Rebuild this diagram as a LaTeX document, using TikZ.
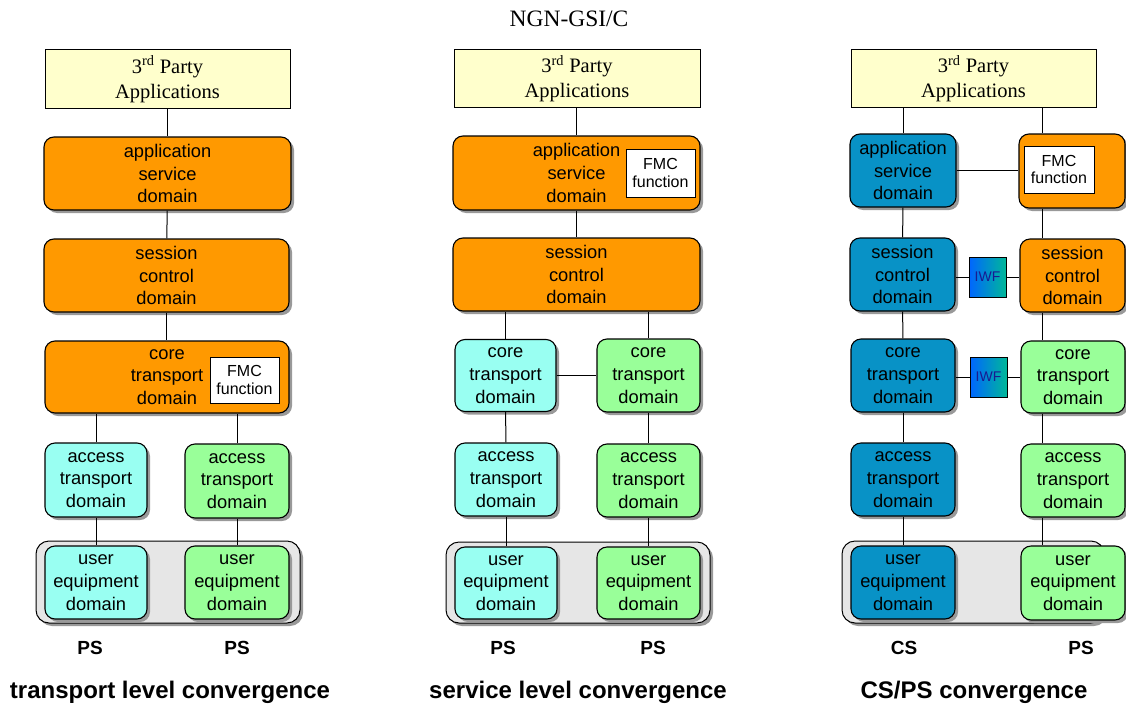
\documentclass[tikz,border=0pt]{standalone}
\usepackage{fontspec}
\setmainfont{Liberation Serif}
\setsansfont{Liberation Sans}
\usetikzlibrary{shadows}
\definecolor{domorange}{HTML}{FF9900}
\definecolor{domcyan}{HTML}{99FFF2}
\definecolor{domgreen}{HTML}{99FF99}
\definecolor{domblue}{HTML}{0892C6}
\definecolor{tpyellow}{HTML}{FFFFCC}
\definecolor{ctrgray}{HTML}{E6E6E6}
\definecolor{iwfL}{HTML}{0066FF}
\definecolor{iwfR}{HTML}{00B899}
\definecolor{iwfText}{HTML}{1A1A90}
\begin{document}
\begin{tikzpicture}[x=1pt,y=-1pt,
  sz/.style 2 args={minimum width=#1pt, minimum height=#2pt},
  shd/.style={drop shadow={shadow xshift=3pt, shadow yshift=-3pt, fill=black!40, opacity=1}},
  dom/.style={draw, line width=1.1pt, rounded corners=10pt, inner sep=0pt, align=center,
    font=\sffamily\fontsize{18.3}{22.8}\selectfont, shd},
  tp/.style={draw, fill=tpyellow, line width=1pt, inner sep=0pt, align=center,
    font=\rmfamily\fontsize{20.5}{25}\selectfont},
  fmc/.style={draw, fill=white, line width=0.9pt, inner sep=0pt, align=center,
    font=\sffamily\fontsize{16}{17.5}\selectfont},
  iwf/.style={draw, line width=0.9pt, inner sep=0pt, left color=iwfL, right color=iwfR,
    text=iwfText, font=\sffamily\fontsize{14}{16}\selectfont, minimum width=37pt, minimum height=40pt},
  ctr/.style={draw, fill=ctrgray, line width=1pt, rounded corners=13pt, shd},
  lbl/.style={font=\sffamily\bfseries\fontsize{19}{22}\selectfont},
  caption/.style={font=\sffamily\bfseries\fontsize{24}{28}\selectfont},
  wire/.style={line width=1pt}]
\useasboundingbox (0,0) rectangle (1126,709);

\node[font=\rmfamily\fontsize{23.5}{26}\selectfont] (title) at (569,19) {NGN-GSI/C};

% ---------------- transport level convergence ----------------
\node[ctr, sz={264}{82}] (ctrL) at (168,582) {};
\node[tp, sz={245}{58}] (tpL) at (167.5,79) {3\textsuperscript{rd} Party\\Applications};
\node[dom, fill=domorange, sz={247}{73}] (appL) at (167.5,173.5) {application\\service\\domain};
\node[dom, fill=domorange, sz={245}{73}] (sesL) at (166.5,275.5) {session\\control\\domain};
\node[dom, fill=domorange, sz={244}{72}] (corL) at (167,377) {core\\transport\\domain};
\node[fmc, sz={69}{46}] (fmcL) at (244.5,380) {FMC\\function};
\node[dom, fill=domcyan, sz={102}{74}] (accLc) at (96,480) {access\\transport\\domain};
\node[dom, fill=domgreen, sz={104}{74}] (accLg) at (237,481) {access\\transport\\domain};
\node[dom, fill=domcyan, sz={102}{73}] (ueLc) at (96,582.5) {user\\equipment\\domain};
\node[dom, fill=domgreen, sz={104}{73}] (ueLg) at (237,582.5) {user\\equipment\\domain};
\node[lbl] (psL1) at (90,648) {PS};
\node[lbl] (psL2) at (237,648) {PS};
\node[caption] (capL) at (170,692) {transport level convergence};

\draw[wire] (tpL) -- (appL);
\draw[wire] (appL) -- (sesL);
\draw[wire] (sesL) -- (sesL |- corL.north);
\draw[wire] (accLc.north) -- (accLc.north |- corL.south);
\draw[wire] (accLg.north) -- (accLg.north |- corL.south);
\draw[wire] (accLc) -- (ueLc);
\draw[wire] (accLg) -- (ueLg);

% ---------------- service level convergence ----------------
\node[ctr, sz={264}{81}] (ctrM) at (578,582.5) {};
\node[tp, sz={246}{57}] (tpM) at (577,78.5) {3\textsuperscript{rd} Party\\Applications};
\node[dom, fill=domorange, sz={247}{74}] (appM) at (576.5,173) {application\\service\\domain};
\node[fmc, sz={69}{48}] (fmcM) at (660.5,173) {FMC\\function};
\node[dom, fill=domorange, sz={247}{73}] (sesM) at (576.5,274.5) {session\\control\\domain};
\node[dom, fill=domcyan, sz={101}{72}] (corMc) at (505.5,375.5) {core\\transport\\domain};
\node[dom, fill=domgreen, sz={103}{73}] (corMg) at (648.5,375.5) {core\\transport\\domain};
\node[dom, fill=domcyan, sz={102}{73}] (accMc) at (506,479.5) {access\\transport\\domain};
\node[dom, fill=domgreen, sz={103}{73}] (accMg) at (648.5,480.5) {access\\transport\\domain};
\node[dom, fill=domcyan, sz={102}{72}] (ueMc) at (506,583) {user\\equipment\\domain};
\node[dom, fill=domgreen, sz={103}{72}] (ueMg) at (648.5,583) {user\\equipment\\domain};
\node[lbl] (psM1) at (503,648) {PS};
\node[lbl] (psM2) at (653,648) {PS};
\node[caption] (capM) at (578,692) {service level convergence};

\draw[wire] (tpM.south -| appM.north) -- (appM.north);
\draw[wire] (appM) -- (sesM);
\draw[wire] (corMc.north) -- (corMc.north |- sesM.south);
\draw[wire] (corMg.north) -- (corMg.north |- sesM.south);
\draw[wire] (corMc) -- (corMg);
\draw[wire] (corMc) -- (accMc);
\draw[wire] (corMg) -- (accMg);
\draw[wire] (accMc) -- (ueMc);
\draw[wire] (accMg) -- (ueMg);

% ---------------- CS/PS convergence ----------------
\coordinate (railR) at (1042,0);
\node[ctr, sz={262}{82}] (ctrR) at (973,582) {};
\node[tp, sz={245}{57}] (tpR) at (973.5,78.5) {3\textsuperscript{rd} Party\\Applications};
\node[dom, fill=domblue, sz={106}{73}] (appRb) at (903,170.5) {application\\service\\domain};
\node[dom, fill=domorange, sz={106}{74}] (appRo) at (1072,171) {};
\node[fmc, sz={70}{47}] (fmcR) at (1059,169.5) {FMC\\function};
\node[dom, fill=domblue, sz={105}{73}] (sesRb) at (902.5,274.5) {session\\control\\domain};
\node[iwf] (iwf1) at (987.5,277) {IWF};
\node[dom, fill=domorange, sz={105}{73}] (sesRo) at (1072.5,275.5) {session\\control\\domain};
\node[dom, fill=domblue, sz={104}{73}] (corRb) at (903,375.5) {core\\transport\\domain};
\node[iwf] (iwf2) at (988.5,377) {IWF};
\node[dom, fill=domgreen, sz={104}{72}] (corRg) at (1073,377) {core\\transport\\domain};
\node[dom, fill=domblue, sz={104}{73}] (accRb) at (903,479.5) {access\\transport\\domain};
\node[dom, fill=domgreen, sz={104}{73}] (accRg) at (1073,480.5) {access\\transport\\domain};
\node[dom, fill=domblue, sz={104}{73}] (ueRb) at (903,582.5) {user\\equipment\\domain};
\node[dom, fill=domgreen, sz={104}{74}] (ueRg) at (1073,583) {user\\equipment\\domain};
\node[lbl] (csR) at (904,648) {CS};
\node[lbl] (psR) at (1081,648) {PS};
\node[caption] (capR) at (974,692) {CS/PS convergence};

\draw[wire] (tpR.south -| appRb.north) -- (appRb.north);
\draw[wire] (tpR.south -| railR) -- (appRo.north -| railR);
\draw[wire] (appRb.east) -- (appRo.west |- appRb.east);
\draw[wire] (appRb) -- (sesRb);
\draw[wire] (appRo.south -| railR) -- (sesRo.north -| railR);
\draw[wire] (sesRb.east |- iwf1.west) -- (iwf1.west);
\draw[wire] (iwf1.east) -- (sesRo.west |- iwf1.east);
\draw[wire] (sesRb) -- (corRb);
\draw[wire] (sesRo.south -| railR) -- (corRg.north -| railR);
\draw[wire] (corRb.east |- iwf2.west) -- (iwf2.west);
\draw[wire] (iwf2.east) -- (corRg.west |- iwf2.east);
\draw[wire] (corRb) -- (accRb);
\draw[wire] (corRg.south -| railR) -- (accRg.north -| railR);
\draw[wire] (accRb) -- (ueRb);
\draw[wire] (accRg.south -| railR) -- (ueRg.north -| railR);
\end{tikzpicture}
\end{document}
